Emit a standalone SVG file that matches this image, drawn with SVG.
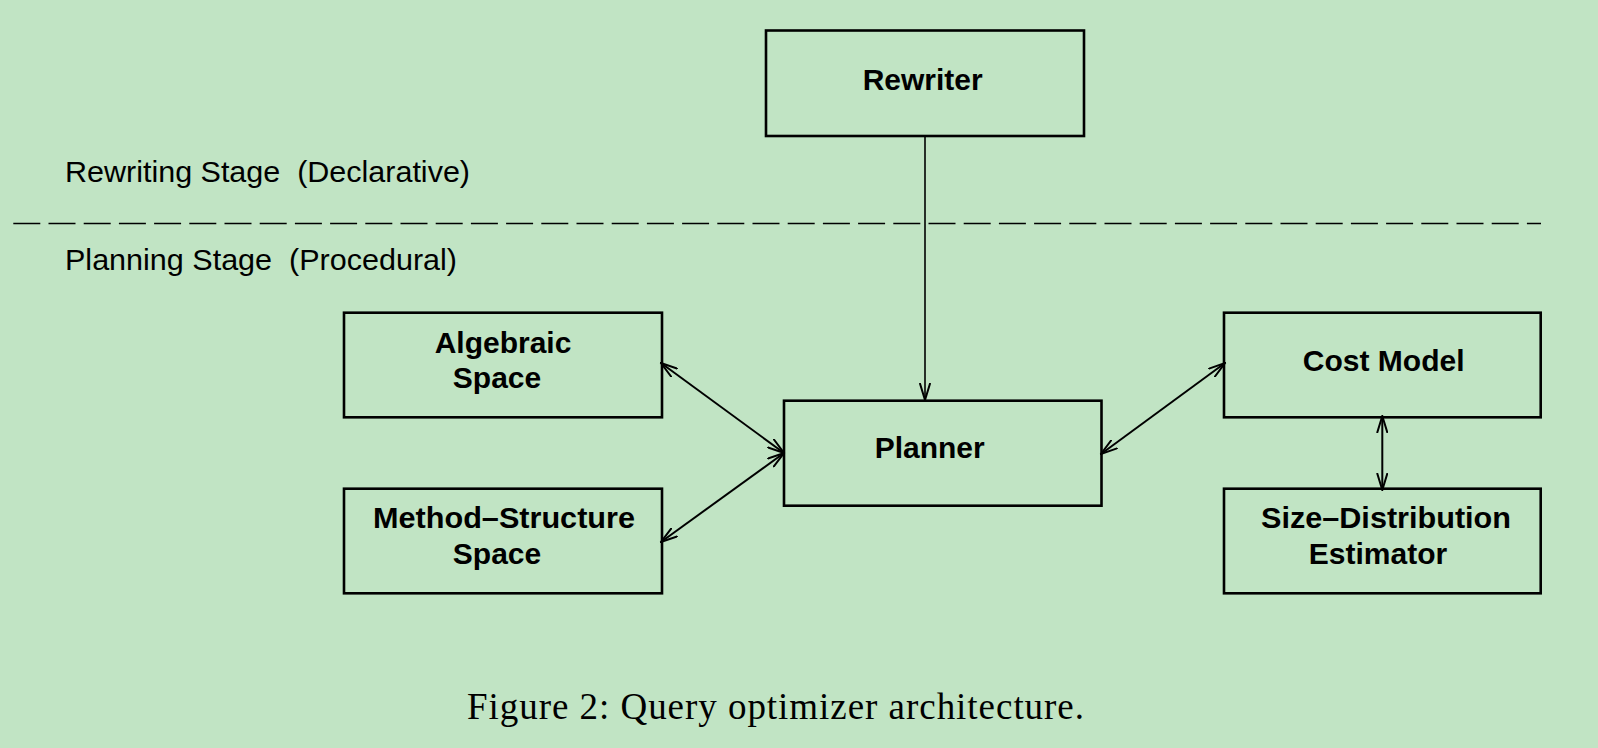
<svg xmlns="http://www.w3.org/2000/svg" width="1598" height="748" viewBox="0 0 1598 748">
<style>
.box{fill:none;stroke:#000;stroke-width:2.6}
.lbl{font-family:"Liberation Sans",Arial,sans-serif;font-weight:bold;font-size:30px;fill:#000;text-anchor:middle}
.stage{font-family:"Liberation Sans",Arial,sans-serif;font-size:29px;fill:#000}
.cap{font-family:"Liberation Serif","Times New Roman",serif;font-size:37px;fill:#000}
.con{fill:none;stroke:#000;stroke-width:2;marker-end:url(#ah)}
.bi{marker-start:url(#ah)}
</style>
<defs>
<marker id="ah" viewBox="0 0 18 12" refX="17" refY="6" markerWidth="18" markerHeight="12" markerUnits="userSpaceOnUse" orient="auto-start-reverse">
<path d="M0,0.8 L17,6 L0,11.2" fill="none" stroke="#000" stroke-width="2"/>
</marker>
</defs>
<rect width="1598" height="748" fill="#C1E4C4"/>
<g id="stages">
<text class="stage" x="65" y="181.5" textLength="405" lengthAdjust="spacingAndGlyphs" xml:space="preserve">Rewriting Stage  (Declarative)</text>
<text class="stage" x="65" y="270" textLength="392" lengthAdjust="spacingAndGlyphs" xml:space="preserve">Planning Stage  (Procedural)</text>
<line x1="13.3" y1="223.5" x2="1541" y2="223.5" stroke="#000" stroke-width="1.6" stroke-dasharray="27 8.2"/>
</g>
<g id="connectors">
<line class="con" x1="925" y1="136" x2="925" y2="400" style="stroke-width:1.6"/>
<line class="con bi" x1="661" y1="363" x2="784" y2="453"/>
<line class="con bi" x1="661" y1="542" x2="784" y2="453"/>
<line class="con bi" x1="1101" y1="454" x2="1225" y2="363"/>
<line class="con bi" x1="1382.3" y1="416" x2="1382.3" y2="490"/>
</g>
<g id="rewriter">
<rect class="box" x="766" y="30.5" width="318" height="105.5"/>
<text class="lbl" x="922.7" y="90">Rewriter</text>
</g>
<g id="algebraic">
<rect class="box" x="344" y="312.7" width="318" height="104.6"/>
<text class="lbl" x="503" y="353.3">Algebraic</text>
<text class="lbl" x="497" y="388.3">Space</text>
</g>
<g id="method">
<rect class="box" x="344" y="488.7" width="318" height="104.6"/>
<text class="lbl" x="504" y="528.3" textLength="262" lengthAdjust="spacingAndGlyphs">Method–Structure</text>
<text class="lbl" x="497" y="564.3">Space</text>
</g>
<g id="planner">
<rect class="box" x="784" y="400.7" width="317.5" height="105"/>
<text class="lbl" x="929.7" y="458.3">Planner</text>
</g>
<g id="costmodel">
<rect class="box" x="1224" y="312.7" width="316.7" height="104.6"/>
<text class="lbl" x="1383.7" y="370.7">Cost Model</text>
</g>
<g id="sizedist">
<rect class="box" x="1224" y="488.7" width="316.7" height="104.6"/>
<text class="lbl" x="1386" y="528.3" textLength="250" lengthAdjust="spacingAndGlyphs">Size–Distribution</text>
<text class="lbl" x="1378" y="564.3">Estimator</text>
</g>
<g id="caption">
<text class="cap" x="467" y="719.3" textLength="617" lengthAdjust="spacing">Figure 2: Query optimizer architecture.</text>
</g>
</svg>
